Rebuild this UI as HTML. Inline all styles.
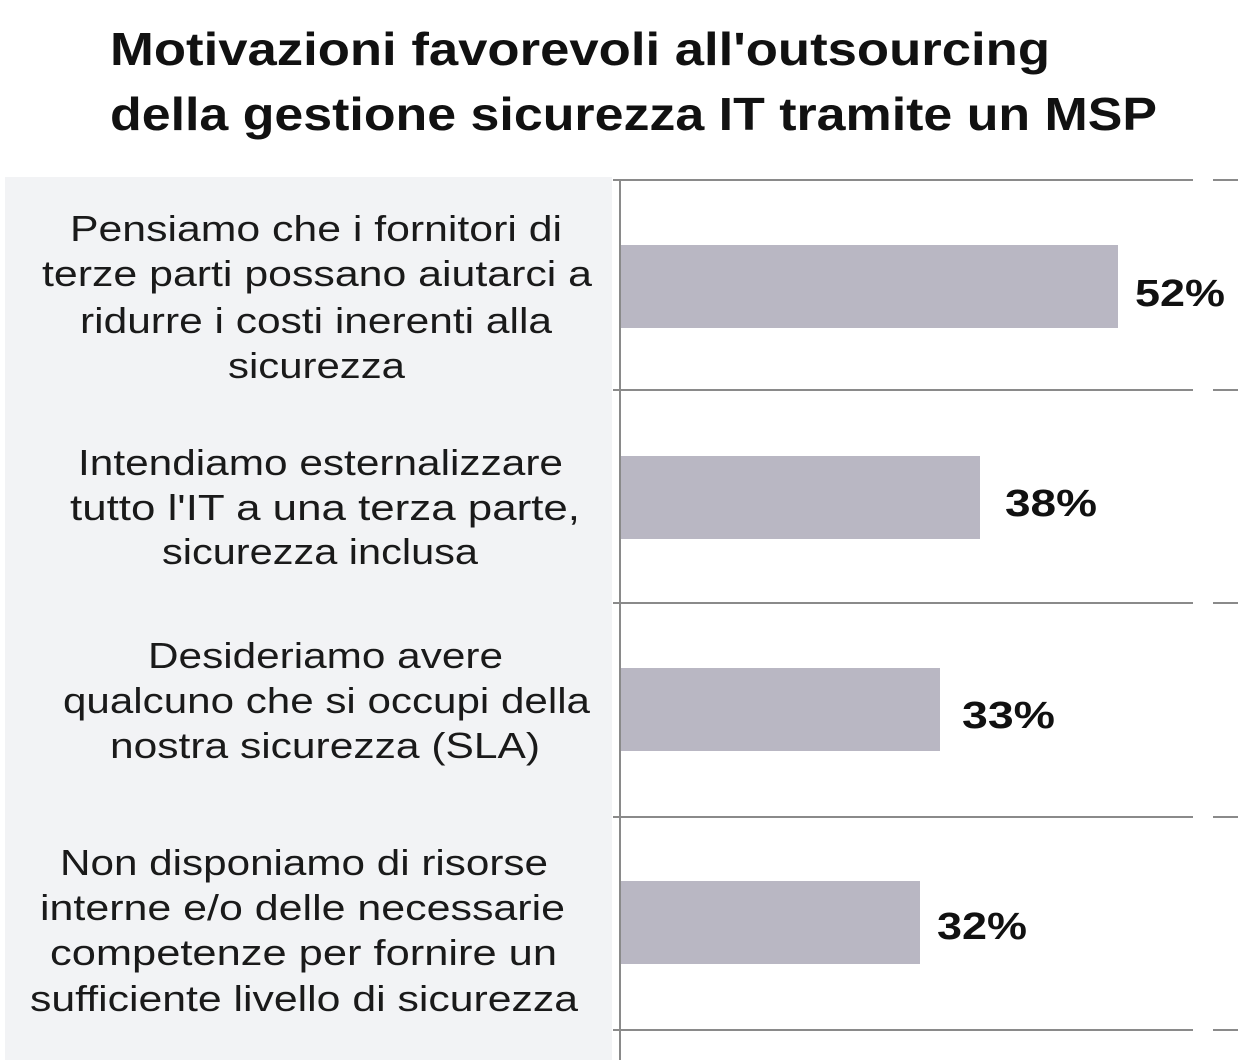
<!DOCTYPE html>
<html><head><meta charset="utf-8"><style>
html,body{margin:0;padding:0;background:#fff;}
svg{display:block;}
text{font-family:"Liberation Sans",sans-serif;}
</style></head><body>
<svg width="1246" height="1060" viewBox="0 0 1246 1060" xmlns="http://www.w3.org/2000/svg">
<rect width="1246" height="1060" fill="#fff"/>
<g font-weight="bold" font-size="46" fill="#111">
<text x="110" y="65" textLength="940" lengthAdjust="spacingAndGlyphs">Motivazioni favorevoli all'outsourcing</text>
<text x="110" y="130" textLength="1047" lengthAdjust="spacingAndGlyphs">della gestione sicurezza IT tramite un MSP</text>
</g>
<rect x="5" y="177" width="607" height="883" fill="#f2f3f5"/>
<g stroke="#8a8a8a" stroke-width="2">
<line x1="620" y1="180" x2="620" y2="1060"/>
<line x1="613" y1="180" x2="1193" y2="180"/><line x1="1213" y1="180" x2="1238" y2="180"/>
<line x1="613" y1="390" x2="1193" y2="390"/><line x1="1213" y1="390" x2="1238" y2="390"/>
<line x1="613" y1="603" x2="1193" y2="603"/><line x1="1213" y1="603" x2="1238" y2="603"/>
<line x1="613" y1="817" x2="1193" y2="817"/><line x1="1213" y1="817" x2="1238" y2="817"/>
<line x1="613" y1="1030" x2="1193" y2="1030"/><line x1="1213" y1="1030" x2="1238" y2="1030"/>
</g>
<g fill="#b9b7c3">
<rect x="621" y="245" width="497" height="83"/>
<rect x="621" y="456" width="359" height="83"/>
<rect x="621" y="668" width="319" height="83"/>
<rect x="621" y="881" width="299" height="83"/>
</g>
<g font-weight="bold" font-size="38" fill="#111">
<text x="1135" y="306" textLength="90" lengthAdjust="spacingAndGlyphs">52%</text>
<text x="1005" y="516" textLength="92" lengthAdjust="spacingAndGlyphs">38%</text>
<text x="962" y="728" textLength="93" lengthAdjust="spacingAndGlyphs">33%</text>
<text x="937" y="939" textLength="90" lengthAdjust="spacingAndGlyphs">32%</text>
</g>
<g font-size="36" fill="#1a1a1a">
<text x="70" y="241" textLength="492" lengthAdjust="spacingAndGlyphs">Pensiamo che i fornitori di</text>
<text x="42" y="286" textLength="550" lengthAdjust="spacingAndGlyphs">terze parti possano aiutarci a</text>
<text x="80" y="333" textLength="472" lengthAdjust="spacingAndGlyphs">ridurre i costi inerenti alla</text>
<text x="228" y="378" textLength="177" lengthAdjust="spacingAndGlyphs">sicurezza</text>
<text x="78" y="475" textLength="485" lengthAdjust="spacingAndGlyphs">Intendiamo esternalizzare</text>
<text x="70" y="520" textLength="510" lengthAdjust="spacingAndGlyphs">tutto l'IT a una terza parte,</text>
<text x="162" y="564" textLength="316" lengthAdjust="spacingAndGlyphs">sicurezza inclusa</text>
<text x="148" y="668" textLength="355" lengthAdjust="spacingAndGlyphs">Desideriamo avere</text>
<text x="63" y="713" textLength="527" lengthAdjust="spacingAndGlyphs">qualcuno che si occupi della</text>
<text x="110" y="758" textLength="430" lengthAdjust="spacingAndGlyphs">nostra sicurezza (SLA)</text>
<text x="60" y="875" textLength="488" lengthAdjust="spacingAndGlyphs">Non disponiamo di risorse</text>
<text x="40" y="920" textLength="525" lengthAdjust="spacingAndGlyphs">interne e/o delle necessarie</text>
<text x="50" y="965" textLength="507" lengthAdjust="spacingAndGlyphs">competenze per fornire un</text>
<text x="30" y="1011" textLength="548" lengthAdjust="spacingAndGlyphs">sufficiente livello di sicurezza</text>
</g>
</svg>
</body></html>
